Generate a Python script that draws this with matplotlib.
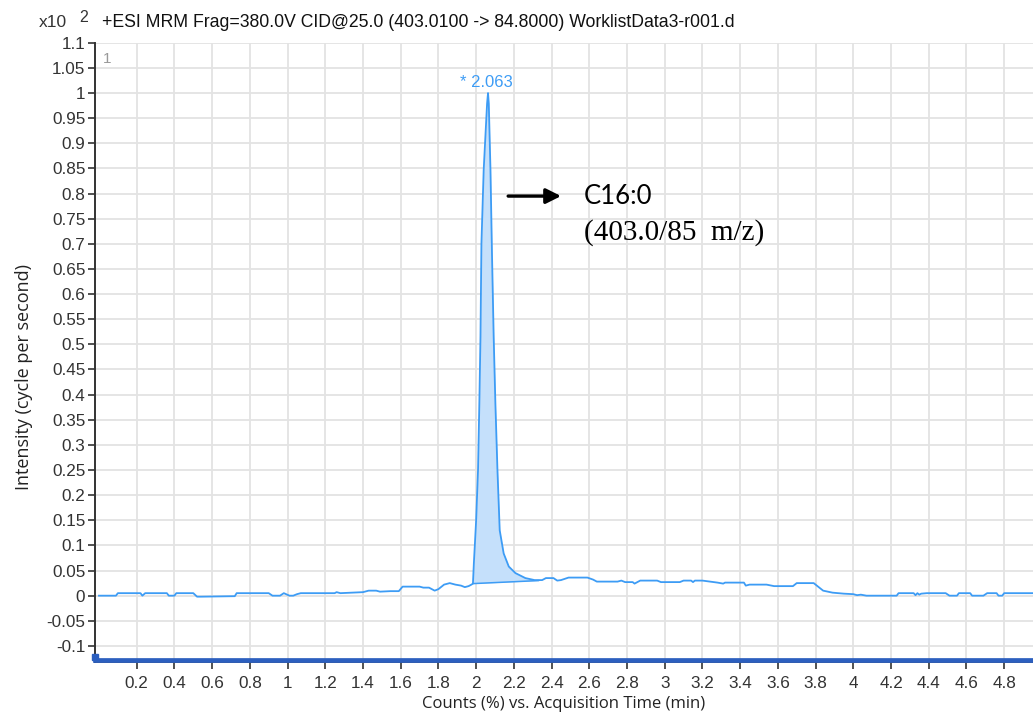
import numpy as np
import matplotlib
matplotlib.use("Agg")
import matplotlib.pyplot as plt
from matplotlib.ticker import FuncFormatter

# MRM trace for 403.0 -> 84.8 (x10^2 counts)
time = [0.0, 0.09, 0.10, 0.22, 0.23, 0.245, 0.36, 0.37, 0.40, 0.41, 0.42, 0.50, 0.52, 0.53, 0.54, 0.72, 0.73,
        0.90, 0.92, 0.96, 0.98, 1.01, 1.03, 1.05, 1.07, 1.25, 1.26, 1.28, 1.40, 1.43, 1.47, 1.49, 1.545, 1.59,
        1.61, 1.70, 1.72, 1.75, 1.78, 1.80, 1.83, 1.86, 1.89, 1.92, 1.94, 1.96, 1.975, 1.983,
        1.988, 2.000, 2.010, 2.017, 2.023, 2.028, 2.040, 2.058, 2.063, 2.067, 2.076, 2.084, 2.093,
        2.102, 2.113, 2.125, 2.146, 2.173, 2.208, 2.261, 2.31, 2.35, 2.37, 2.41, 2.43, 2.45, 2.49,
        2.59, 2.62, 2.64, 2.75, 2.77, 2.79, 2.83, 2.84, 2.87, 2.96, 2.98, 3.08, 3.10, 3.14, 3.15, 3.16,
        3.20, 3.28, 3.31, 3.32, 3.42, 3.43, 3.45, 3.54, 3.58, 3.61, 3.68, 3.70, 3.79, 3.84, 3.89, 3.95,
        4.00, 4.02, 4.04, 4.07, 4.23, 4.24, 4.32, 4.33, 4.34, 4.35, 4.36, 4.39, 4.49, 4.51, 4.55, 4.56,
        4.62, 4.63, 4.69, 4.71, 4.76, 4.77, 4.79, 4.80, 4.96]
intensity = [0.0, 0.0, 0.005, 0.005, 0.0, 0.005, 0.005, 0.0, 0.0, 0.005, 0.005, 0.005, -0.002, -0.002, -0.002,
             -0.001, 0.005, 0.005, 0.0, 0.0, 0.005, 0.0, 0.0, 0.003, 0.005, 0.005, 0.007, 0.005, 0.007, 0.01,
             0.01, 0.008, 0.009, 0.009, 0.018, 0.018, 0.016, 0.016, 0.010, 0.013, 0.022, 0.025, 0.022,
             0.020, 0.017, 0.019, 0.022, 0.024,
             0.065, 0.15, 0.25, 0.383, 0.515, 0.70, 0.847, 0.979, 1.0, 0.979, 0.847, 0.68, 0.515,
             0.383, 0.25, 0.13, 0.084, 0.058, 0.045, 0.035, 0.031, 0.031, 0.035, 0.035, 0.030, 0.031, 0.036,
             0.036, 0.032, 0.028, 0.028, 0.030, 0.027, 0.027, 0.024, 0.030, 0.030, 0.027, 0.027, 0.030, 0.030,
             0.027, 0.030, 0.030, 0.026, 0.024, 0.026, 0.026, 0.020, 0.022, 0.022, 0.019, 0.019, 0.019, 0.025,
             0.025, 0.010, 0.006, 0.004, 0.003, 0.001, 0.002, 0.0, 0.0, 0.005, 0.005, 0.001, 0.005, 0.002,
             0.004, 0.005, 0.005, 0.0, 0.0, 0.005, 0.005, 0.0, 0.0, 0.005, 0.005, 0.0, 0.0, 0.005, 0.005]

peak_rt = 2.063
peak_height = 1.0
# integration baseline under the peak
base_start = (1.983, 0.024)
base_end = (2.33, 0.030)

title = "+ESI MRM Frag=380.0V CID@25.0 (403.0100 -> 84.8000) WorklistData3-r001.d"
xticks = [round(0.2 * i, 1) for i in range(1, 25)]
yticks = [round(-0.1 + 0.05 * i, 2) for i in range(25)]

trace_color = "#3d9cf5"
fill_color = "#c5e0fb"

fig = plt.figure(figsize=(10.33, 7.13), dpi=100)
ax = fig.add_axes([0.092, 0.0715, 0.908, 0.8685])

t = np.array(time)
y = np.array(intensity)

# shade the integrated peak
mask = (t >= base_start[0]) & (t <= base_end[0])
tp = np.concatenate([[base_start[0]], t[mask], [base_end[0]]])
yp = np.concatenate([[base_start[1]], y[mask], [base_end[1]]])
base = np.interp(tp, [base_start[0], base_end[0]], [base_start[1], base_end[1]])
ax.fill_between(tp, base, yp, color=fill_color, lw=0, zorder=2)
ax.plot([base_start[0], base_end[0]], [base_start[1], base_end[1]], color=trace_color, lw=1.1, zorder=3)

ax.plot(t, y, color=trace_color, lw=1.3, zorder=4)

ax.set_xlim(-0.021, 4.953)
ax.set_ylim(-0.132, 1.1)

ax.set_xticks(xticks)
ax.set_yticks(yticks)
fmt = FuncFormatter(lambda v, p: "%g" % round(v, 2))
ax.xaxis.set_major_formatter(fmt)
ax.yaxis.set_major_formatter(fmt)
for lab in ax.get_xticklabels() + ax.get_yticklabels():
    lab.set_family("Liberation Sans")
    lab.set_fontsize(12.3)
    lab.set_color("#333333")
ax.tick_params(axis="y", direction="out", length=5, width=1.2, color="#333333", pad=2)
ax.tick_params(axis="x", direction="out", length=5, width=1.2, color="#333333", pad=5)

ax.grid(True, color="#e3e3e3", lw=1.3)
ax.set_axisbelow(True)
for s in ["top", "right"]:
    ax.spines[s].set_visible(False)
ax.spines["left"].set_color("#333333")
ax.spines["left"].set_linewidth(1.4)
ax.spines["bottom"].set_color("#333333")
ax.spines["bottom"].set_linewidth(1.2)

# thick blue bar along the time axis
ax.axhline(-0.127, color="#2c5fbf", lw=3.4, zorder=5, clip_on=False)
ax.plot([-0.021], [-0.123], marker="s", ms=5, color="#2c5fbf", clip_on=False, zorder=6)

ax.set_xlabel("Counts (%) vs. Acquisition Time (min)", family="Open Sans", fontsize=12,
              color="#222222", labelpad=4)
ax.set_ylabel("Intensity (cycle per second)", family="Open Sans", fontsize=13,
              color="#222222")
ax.yaxis.set_label_coords(-0.066, 0.46)

fig.text(0.038, 0.969, "x10", family="Liberation Sans", fontsize=12.5, color="#333333", va="center")
fig.text(0.077, 0.976, "2", family="Liberation Sans", fontsize=11.5, color="#333333", va="center")
fig.text(0.099, 0.969, title, family="Liberation Sans", fontsize=12.7, color="#111111", va="center")

ax.text(0.008, 0.985, "1", transform=ax.transAxes, family="Liberation Sans", fontsize=11,
        color="#999999", va="top")

ax.annotate("* 2.063", (peak_rt, peak_height), xytext=(-1, 2), textcoords="offset points",
            ha="center", va="bottom", family="Liberation Sans", fontsize=12, color=trace_color)

# compound label with arrow
ax.annotate("", xy=(2.465, 0.795), xytext=(2.155, 0.795),
            arrowprops=dict(arrowstyle="-|>,head_length=0.9,head_width=0.45", color="black", lw=2.4))
ax.text(2.57, 0.795, "C16:0", family="Lato", fontsize=18.5, color="black", va="center", ha="left")
ax.text(2.57, 0.722, "(403.0/85  m/z)", family="Liberation Serif", fontsize=21, color="black",
        va="center", ha="left")

fig.savefig("out.png", dpi=100)
